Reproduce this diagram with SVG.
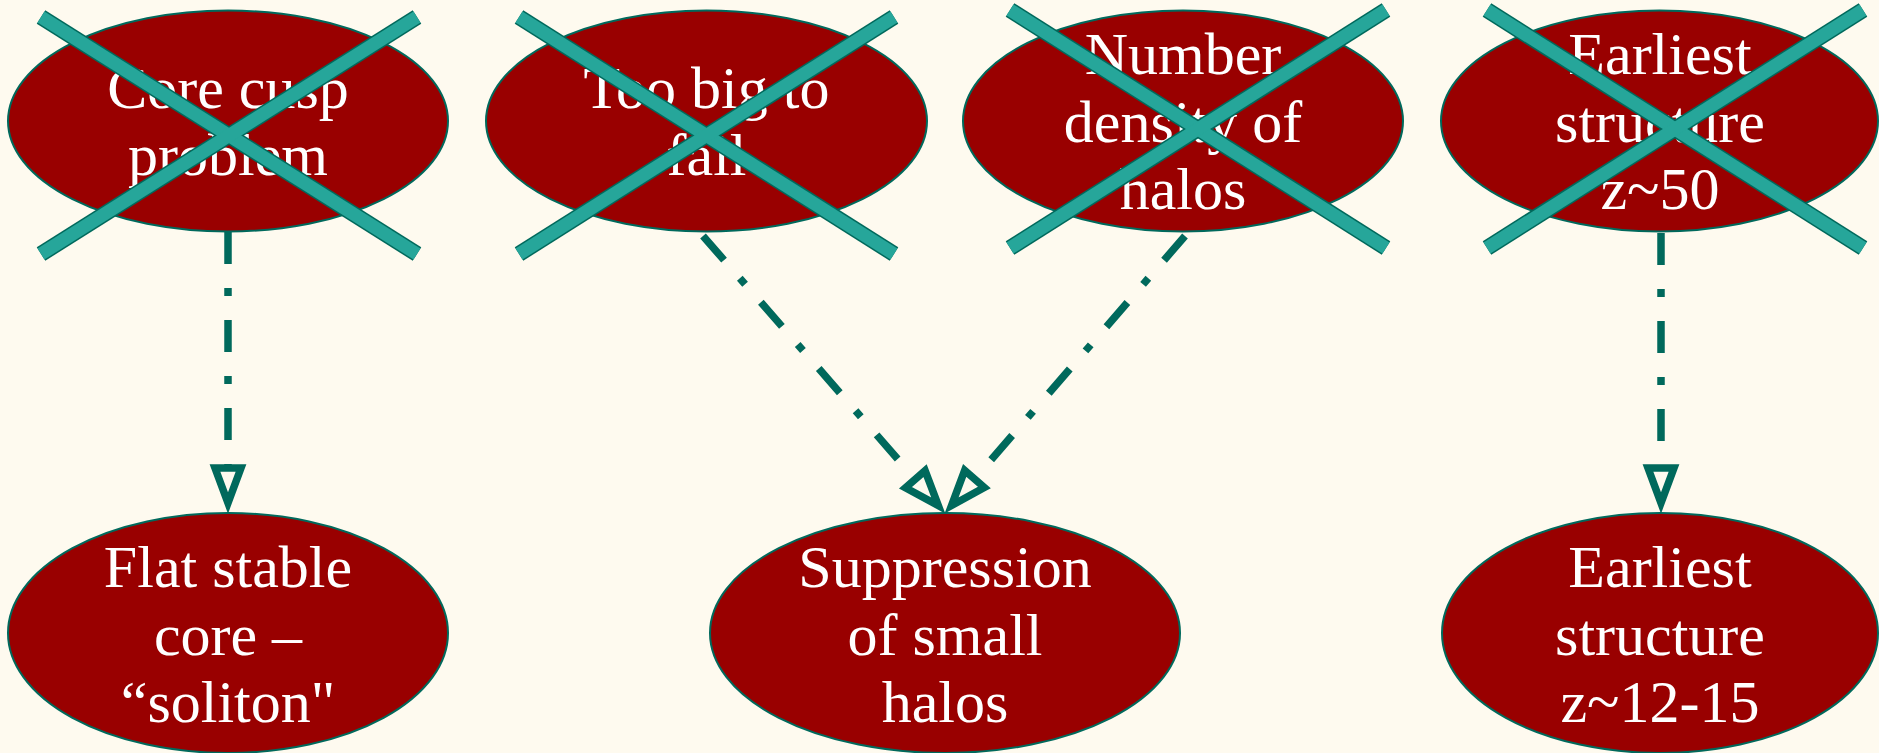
<svg xmlns="http://www.w3.org/2000/svg" width="1879" height="753" viewBox="0 0 1879 753">
<style>
.bg{fill:#fefaef}
.node ellipse{fill:#990000;stroke:#00695c;stroke-width:2}
.node text{font-family:"Liberation Serif","Times New Roman",serif;font-size:60px;fill:#ffffff;text-anchor:middle}
.xo{stroke:#00695c;stroke-width:16;stroke-linecap:butt}
.xi{stroke:#26a69a;stroke-width:13;stroke-linecap:butt}
.edge{fill:none;stroke:#00695c;stroke-width:7.5;stroke-dasharray:32 24 8 24;stroke-linecap:butt}
</style>
<defs>
<marker id="arr" markerUnits="userSpaceOnUse" markerWidth="60" markerHeight="40" refX="0" refY="0" orient="auto" overflow="visible">
<path d="M0,-13 L35,0 L0,13 Z" fill="#fefaef" stroke="#00695c" stroke-width="7.5" stroke-linejoin="miter" stroke-miterlimit="10"/>
</marker>
</defs>
<rect class="bg" x="0" y="0" width="1879" height="753"/>
<g id="edges">
<path class="edge" d="M228,232 L228,468" marker-end="url(#arr)"/>
<path class="edge" d="M703,236 L915.3,479.2" marker-end="url(#arr)"/>
<path class="edge" d="M1185,236 L974.5,479" marker-end="url(#arr)"/>
<path class="edge" d="M1661,233 L1661,468" marker-end="url(#arr)"/>
</g>
<g id="core_cusp" class="node">
<ellipse cx="228" cy="121" rx="220" ry="110.5"/>
<text x="228" y="107.5">Core cusp</text>
<text x="228" y="175">problem</text>
<line class="xo" x1="41" y1="17" x2="417" y2="254"/>
<line class="xo" x1="417" y1="17" x2="41" y2="254"/>
<line class="xi" x1="41" y1="17" x2="417" y2="254"/>
<line class="xi" x1="417" y1="17" x2="41" y2="254"/>
</g>
<g id="too_big" class="node">
<ellipse cx="706.5" cy="121" rx="220.5" ry="110.5"/>
<text x="706.5" y="107.5">Too big to</text>
<text x="706.5" y="175">fail</text>
<line class="xo" x1="519" y1="17" x2="894" y2="254"/>
<line class="xo" x1="894" y1="17" x2="519" y2="254"/>
<line class="xi" x1="519" y1="17" x2="894" y2="254"/>
<line class="xi" x1="894" y1="17" x2="519" y2="254"/>
</g>
<g id="number_density" class="node">
<ellipse cx="1183" cy="121" rx="220" ry="110.5"/>
<text x="1183" y="74">Number</text>
<text x="1183" y="141.5">density of</text>
<text x="1183" y="209">halos</text>
<line class="xo" x1="1010" y1="10" x2="1386" y2="248"/>
<line class="xo" x1="1386" y1="10" x2="1010" y2="248"/>
<line class="xi" x1="1010" y1="10" x2="1386" y2="248"/>
<line class="xi" x1="1386" y1="10" x2="1010" y2="248"/>
</g>
<g id="earliest_50" class="node">
<ellipse cx="1659.5" cy="121" rx="218.5" ry="110.5"/>
<text x="1660" y="74">Earliest</text>
<text x="1660" y="141.5">structure</text>
<text x="1660" y="209">z~50</text>
<line class="xo" x1="1487" y1="10" x2="1863" y2="248"/>
<line class="xo" x1="1863" y1="10" x2="1487" y2="248"/>
<line class="xi" x1="1487" y1="10" x2="1863" y2="248"/>
<line class="xi" x1="1863" y1="10" x2="1487" y2="248"/>
</g>
<g id="soliton" class="node">
<ellipse cx="228" cy="633" rx="220" ry="120"/>
<text x="228" y="587">Flat stable</text>
<text x="228" y="654.5">core –</text>
<text x="228" y="722">“soliton"</text>
</g>
<g id="suppression" class="node">
<ellipse cx="945" cy="633" rx="235" ry="120"/>
<text x="945" y="587">Suppression</text>
<text x="945" y="654.5">of small</text>
<text x="945" y="722">halos</text>
</g>
<g id="earliest_12" class="node">
<ellipse cx="1660" cy="633" rx="218" ry="120"/>
<text x="1660" y="587">Earliest</text>
<text x="1660" y="654.5">structure</text>
<text x="1660" y="722">z~12-15</text>
</g>
</svg>
